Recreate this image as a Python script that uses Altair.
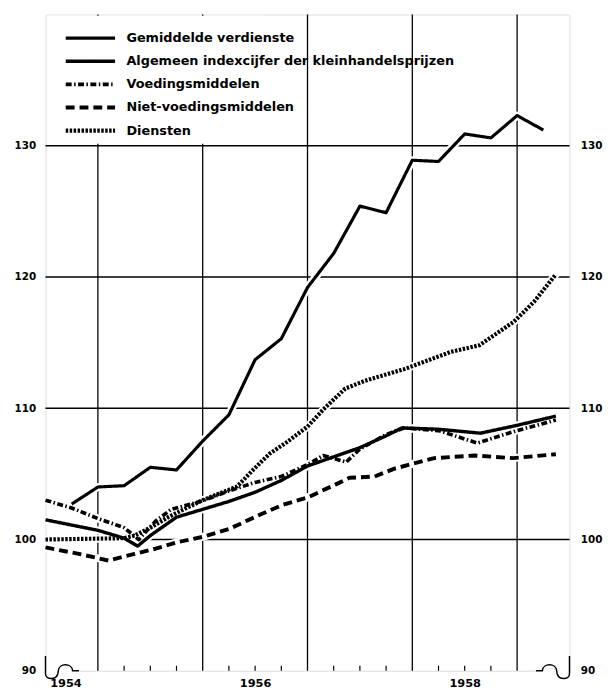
import altair as alt
import pandas as pd

# ---------------- data ----------------
series_names = [
    "Gemiddelde verdienste",
    "Algemeen indexcijfer der kleinhandelsprijzen",
    "Voedingsmiddelen",
    "Niet-voedingsmiddelen",
    "Diensten",
]

verdienste_x = [1954.75, 1955.0, 1955.25, 1955.5, 1955.75, 1956.0, 1956.25, 1956.5, 1956.75,
                1957.0, 1957.25, 1957.5, 1957.75, 1958.0, 1958.25, 1958.5, 1958.75, 1959.0, 1959.25]
verdienste_y = [102.7, 104.0, 104.1, 105.5, 105.3, 107.5, 109.5, 113.7, 115.3,
                119.2, 121.8, 125.4, 124.9, 128.9, 128.8, 130.9, 130.6, 132.3, 131.2]

algemeen_x = [1954.5, 1954.75, 1955.0, 1955.25, 1955.38, 1955.5, 1955.75, 1956.0, 1956.25, 1956.5,
              1956.75, 1957.0, 1957.25, 1957.5, 1957.75, 1957.9, 1958.25, 1958.65, 1959.0, 1959.37]
algemeen_y = [101.5, 101.1, 100.7, 100.1, 99.5, 100.3, 101.7, 102.3, 102.9, 103.6,
              104.5, 105.6, 106.3, 107.0, 107.9, 108.5, 108.4, 108.1, 108.7, 109.4]

voeding_x = [1954.5, 1954.75, 1955.0, 1955.25, 1955.39, 1955.55, 1955.7, 1956.0, 1956.25, 1956.5,
             1956.75, 1957.0, 1957.15, 1957.37, 1957.5, 1957.75, 1957.92, 1958.25, 1958.62, 1959.0, 1959.37]
voeding_y = [103.0, 102.4, 101.6, 100.9, 100.0, 101.4, 102.3, 102.95, 103.7, 104.35,
             104.8, 105.7, 106.4, 105.9, 106.9, 108.0, 108.5, 108.3, 107.35, 108.3, 109.1]

niet_x = [1954.5, 1954.85, 1955.1, 1955.35, 1955.55, 1955.76, 1956.0, 1956.25, 1956.55, 1956.75,
          1957.0, 1957.27, 1957.4, 1957.64, 1957.83, 1958.21, 1958.59, 1958.96, 1959.37]
niet_y = [99.4, 98.85, 98.4, 98.9, 99.3, 99.8, 100.2, 100.8, 101.9, 102.6,
          103.2, 104.2, 104.7, 104.8, 105.4, 106.2, 106.4, 106.2, 106.5]

diensten_x = [1954.5, 1955.25, 1955.35, 1955.5, 1955.67, 1955.82, 1956.0, 1956.33, 1956.48, 1956.64,
              1956.8, 1957.0, 1957.15, 1957.36, 1957.55, 1957.93, 1958.37, 1958.64, 1958.97, 1959.16, 1959.37]
diensten_y = [100.0, 100.1, 100.3, 100.9, 101.7, 102.3, 103.0, 104.05, 105.3, 106.55,
              107.4, 108.6, 109.9, 111.5, 112.1, 113.0, 114.3, 114.8, 116.6, 118.1, 120.2]

year_lines = [1955, 1956, 1957, 1958, 1959]
value_lines = [100, 110, 120, 130]
value_labels = [90, 100, 110, 120, 130]
year_label_pos = [1954.69, 1956.5, 1958.5]
quarter_ticks = [1955.25, 1955.5, 1955.75, 1956.25, 1956.5, 1956.75, 1957.25, 1957.5, 1957.75,
                 1958.25, 1958.5, 1958.75]

# ---------------- tables ----------------
def frame(name, xs, ys):
    return pd.DataFrame({"jaar": xs, "index": ys, "reeks": name})

df = pd.concat([
    frame(series_names[4], diensten_x, diensten_y),
    frame(series_names[3], niet_x, niet_y),
    frame(series_names[2], voeding_x, voeding_y),
    frame(series_names[0], verdienste_x, verdienste_y),
    frame(series_names[1], algemeen_x, algemeen_y),
], ignore_index=True)

FONT = "DejaVu Sans"
xscale = alt.Scale(domain=[1954.5, 1959.5], nice=False, zero=False)
yscale = alt.Scale(domain=[90, 140], nice=False, zero=False)

dash_range = [[1, 0], [1, 0], [6, 2.5, 1.5, 2.5], [9, 5], [2.5, 1.5]]
width_range = [3.2, 4.2, 1.3, 2.2, 3.5]

legend = alt.Legend(
    title=None, orient="none", legendX=18, legendY=17, symbolType="stroke",
    symbolSize=2500, symbolStrokeColor="black", clipHeight=14, rowPadding=9.4,
    labelOffset=9, labelFont=FONT, labelFontSize=13, labelFontWeight="bold",
    labelColor="black", labelLimit=600, padding=0,
)

x_axis = alt.Axis(values=year_label_pos, labelExpr="'' + floor(datum.value)", grid=False,
                  domain=False, ticks=False, tickSize=0, labelPadding=7, labelFlush=False,
                  labelFont=FONT, labelFontSize=11.5, labelFontWeight="bold", labelColor="black",
                  title=None)
y_axis_left = alt.Axis(values=value_labels, orient="left", grid=False, domain=False, ticks=False,
                       tickSize=0, labelPadding=10, labelFont=FONT, labelFontSize=10.5,
                       labelFontWeight="bold", labelColor="black", title=None)
y_axis_right = alt.Axis(values=value_labels, orient="right", grid=False, domain=False, ticks=False,
                        tickSize=0, labelPadding=11, labelFont=FONT, labelFontSize=10.5,
                        labelFontWeight="bold", labelColor="black", title=None)

one = pd.DataFrame({"k": [0]})

hgrid = alt.Chart(pd.DataFrame({"v": value_lines})).mark_rule(color="black", strokeWidth=1.3).encode(
    y=alt.Y("v:Q", scale=yscale, axis=y_axis_right)
)

vgrid = alt.Chart(pd.DataFrame({"jaar": year_lines})).mark_rule(color="black", strokeWidth=1.3).encode(
    x=alt.X("jaar:Q", scale=xscale, axis=x_axis)
)

patch = alt.Chart(one).mark_rect(color="white").encode(
    x=alt.datum(1954.52, scale=xscale, axis=x_axis), x2=alt.datum(1956.6),
    y=alt.datum(139.9, scale=yscale, axis=y_axis_left), y2=alt.datum(130.15),
)

ticks = alt.Chart(pd.DataFrame({"q": quarter_ticks})).mark_rule(color="black", strokeWidth=1.2).encode(
    x=alt.X("q:Q", scale=xscale, axis=x_axis),
    y=alt.datum(90, scale=yscale, axis=y_axis_left), y2=alt.datum(90.38),
)

halo = alt.Chart(df).mark_line(color="white", strokeWidth=8, strokeCap="round", strokeJoin="round").encode(
    x=alt.X("jaar:Q", scale=xscale, axis=x_axis),
    y=alt.Y("index:Q", scale=yscale, axis=y_axis_left),
    detail="reeks:N",
)

lines = alt.Chart(df).mark_line(color="black", strokeJoin="round").encode(
    x=alt.X("jaar:Q", scale=xscale, axis=x_axis),
    y=alt.Y("index:Q", scale=yscale, axis=y_axis_left),
    strokeDash=alt.StrokeDash("reeks:N", scale=alt.Scale(domain=series_names, range=dash_range), legend=legend),
    strokeWidth=alt.StrokeWidth("reeks:N", scale=alt.Scale(domain=series_names, range=width_range), legend=legend),
)

left_orn = "M0,-15 L0,3 C0,9.5 11,9.5 12.5,3 L13,0 C13.5,-8 27,-8 27.5,0 L34,0"
right_orn = "M0,-15 L0,3 C0,9.5 -11,9.5 -12.5,3 L-13,0 C-13.5,-8 -27,-8 -27.5,0 L-34,0"
left_erase = "M1,-1.7 L34,-1.7 L34,1.7 L1,1.7 Z"
right_erase = "M-1,-1.7 L-34,-1.7 L-34,1.7 L-1,1.7 Z"

def symbol(path, xval, filled):
    if filled:
        mk = alt.Chart(one).mark_point(shape=path, size=4, filled=True, fill="white", strokeWidth=0, opacity=1)
    else:
        mk = alt.Chart(one).mark_point(shape=path, size=4, filled=False, stroke="black", strokeWidth=1.5, opacity=1)
    return mk.encode(x=alt.datum(xval, scale=xscale, axis=x_axis),
                     y=alt.datum(90, scale=yscale, axis=y_axis_left))

inner = alt.layer(
    vgrid, patch, ticks, halo, lines,
    symbol(left_erase, 1954.5, True), symbol(right_erase, 1959.5, True),
    symbol(left_orn, 1954.5, False), symbol(right_orn, 1959.5, False),
)

chart = alt.layer(hgrid, inner).resolve_scale(y="independent").properties(
    width=531, height=665,
    autosize=alt.AutoSizeParams(type="none"),
    padding={"left": 38, "top": 2, "right": 38, "bottom": 22},
).configure_view(stroke="black", strokeWidth=1.6).configure(background="white")

chart.save("out.html", embed_options={"renderer": "svg", "actions": False})
